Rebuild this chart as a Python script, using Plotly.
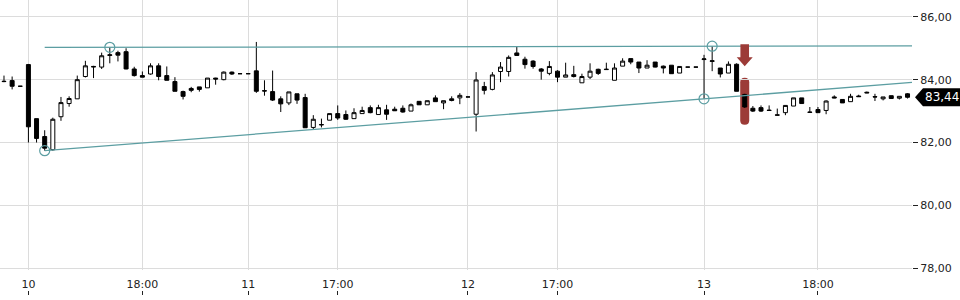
import plotly.graph_objects as go

# ---------------- data ----------------
opens = [83.95, 83.97, 83.79, 84.48, 82.76, 82.19, 81.77, 82.82, 83.24, 83.39,
         84.10, 84.40, 84.40, 84.77, 84.86, 84.89, 84.34, 84.13, 84.18, 84.44,
         84.13, 83.94, 83.62, 83.72, 83.77, 83.74, 84.05, 84.00, 84.24, 84.19,
         84.19, 84.28, 83.65, 83.62, 83.39, 83.26, 83.55, 83.43, 82.48, 82.56,
         82.71, 82.92, 82.89, 82.76, 82.92, 83.11, 82.89, 83.04, 83.06, 83.09,
         83.00, 83.31, 83.20, 83.42, 83.26, 83.39, 83.42, 83.45, 82.90, 83.78,
         83.69, 84.26, 84.26, 84.85, 84.65, 84.59, 84.34, 84.20, 84.27, 84.08,
         84.16, 83.90, 84.08, 84.33, 84.32, 83.98, 84.43, 84.67, 84.56, 84.37,
         84.56, 84.43, 84.46, 84.21, 84.40, 84.40, 84.64, 84.58, 84.37, 84.21,
         84.49, 83.53, 83.09, 83.11, 83.03, 82.88, 82.95, 83.16, 83.42, 82.97,
         83.05, 83.02, 83.45, 83.37, 83.30, 83.48, 83.60, 83.46, 83.39, 83.49,
         83.41, 83.55]
highs = [84.13, 84.10, 83.79, 84.50, 82.76, 82.39, 82.79, 83.45, 83.47, 84.13,
         84.60, 84.44, 84.86, 85.03, 84.92, 85.00, 84.41, 84.26, 84.52, 84.52,
         84.42, 84.08, 83.65, 83.77, 83.77, 84.05, 84.06, 84.26, 84.26, 84.19,
         84.19, 85.20, 83.98, 84.29, 83.47, 83.61, 83.55, 83.55, 82.87, 82.76,
         82.92, 83.18, 83.02, 83.09, 83.14, 83.18, 83.20, 83.20, 83.14, 83.18,
         83.24, 83.31, 83.33, 83.50, 83.33, 83.47, 83.57, 83.45, 84.24, 83.93,
         84.24, 84.56, 84.77, 85.07, 84.73, 84.62, 84.37, 84.59, 84.30, 84.54,
         84.44, 84.19, 84.52, 84.35, 84.54, 84.52, 84.68, 84.67, 84.56, 84.62,
         84.56, 84.45, 84.46, 84.42, 84.40, 84.40, 84.79, 85.065, 84.37, 84.58,
         84.52, 83.55, 83.16, 83.18, 83.18, 83.08, 83.18, 83.42, 83.42, 83.13,
         83.13, 83.34, 83.50, 83.37, 83.55, 83.52, 83.62, 83.55, 83.45, 83.49,
         83.47, 83.57]
lows = [83.92, 83.69, 83.79, 82.00, 82.00, 81.74, 81.74, 82.69, 83.14, 83.39,
        84.07, 84.05, 84.34, 84.52, 84.58, 84.33, 84.10, 84.08, 84.16, 83.98,
        83.98, 83.63, 83.37, 83.60, 83.62, 83.74, 83.84, 83.98, 84.15, 84.19,
        84.19, 83.58, 83.49, 83.32, 82.97, 83.19, 83.23, 82.47, 82.43, 82.48,
        82.71, 82.72, 82.72, 82.76, 82.92, 82.93, 82.89, 82.72, 83.01, 82.95,
        83.00, 83.20, 83.20, 83.30, 83.06, 83.31, 83.22, 83.45, 82.35, 83.53,
        83.66, 83.92, 84.10, 84.77, 84.35, 84.35, 84.00, 84.14, 83.92, 84.08,
        84.07, 83.90, 84.02, 84.15, 84.31, 83.98, 84.43, 84.49, 84.21, 84.37,
        84.39, 84.20, 84.19, 84.21, 84.40, 84.40, 83.39, 84.27, 84.07, 84.21,
        83.63, 83.10, 82.97, 82.97, 83.02, 82.87, 82.87, 83.16, 83.24, 82.96,
        82.95, 82.90, 83.41, 83.26, 83.30, 83.45, 83.57, 83.32, 83.34, 83.40,
        83.37, 83.40]
closes = [83.94, 83.79, 83.79, 82.50, 82.13, 81.82, 82.74, 83.27, 83.40, 84.00,
          84.44, 84.42, 84.76, 84.79, 84.78, 84.34, 84.13, 84.08, 84.44, 84.10,
          83.98, 83.63, 83.47, 83.66, 83.69, 84.05, 84.02, 84.24, 84.18, 84.19,
          84.19, 83.63, 83.64, 83.35, 83.23, 83.61, 83.35, 82.47, 82.74, 82.57,
          82.92, 82.78, 82.74, 82.95, 83.02, 82.95, 83.11, 82.90, 83.01, 82.97,
          83.20, 83.20, 83.33, 83.30, 83.33, 83.34, 83.50, 83.45, 83.99, 83.66,
          84.15, 84.40, 84.71, 84.77, 84.48, 84.42, 84.27, 84.42, 84.08, 84.15,
          84.10, 84.10, 84.27, 84.20, 84.33, 84.37, 84.59, 84.56, 84.37, 84.46,
          84.40, 84.37, 84.19, 84.42, 84.40, 84.40, 84.66, 84.60, 84.18, 84.49,
          83.63, 83.13, 83.00, 83.00, 83.02, 82.87, 83.18, 83.42, 83.24, 82.96,
          82.95, 83.32, 83.42, 83.26, 83.47, 83.46, 83.58, 83.45, 83.45, 83.40,
          83.47, 83.44]
idx = list(range(len(closes)))

# x-axis ticks (candle index where the label sits)
tick_idx = [3, 17, 30, 41, 57, 68, 86, 100]
tick_text = ["10", "18:00", "11", "17:00", "12", "17:00", "13", "18:00"]

y_ticks = [78, 80, 82, 84, 86]

# trend line anchor points (candle index, price)
upper_idx = [13, 87]
upper_val = [85.03, 85.065]
lower_idx = [5, 86]
lower_val = [81.74, 83.39]
line_start_idx = 5

# signal marker candle
signal_idx = 91
signal_arrow_tip = 84.43
signal_bar_center = 83.31

# ---------------- styles ----------------
X_RANGE = [-0.49, 111.55]
Y_RANGE = [77.95, 86.535]
TEAL = "rgb(92,158,162)"
RED = "#9c3b37"
GRID = "#dcdcdc"
FONT = "DejaVu Sans"

def extend(ix, vals, x0, x1):
    slope = (vals[1] - vals[0]) / (ix[1] - ix[0])
    return [x0, x1], [vals[0] + (x0 - ix[0]) * slope, vals[0] + (x1 - ix[0]) * slope]

fig = go.Figure()

fig.add_trace(go.Candlestick(
    x=idx, open=opens, high=highs, low=lows, close=closes,
    increasing=dict(fillcolor="white", line=dict(color="black", width=1)),
    decreasing=dict(fillcolor="black", line=dict(color="black", width=1)),
    whiskerwidth=0, showlegend=False, hoverinfo="skip",
))

ux, uy = extend(upper_idx, upper_val, line_start_idx, X_RANGE[1])
lx, ly = extend(lower_idx, lower_val, line_start_idx, X_RANGE[1])
for xs, ys in [(ux, uy), (lx, ly)]:
    fig.add_trace(go.Scatter(x=xs, y=ys, mode="lines",
                             line=dict(color=TEAL, width=1.3),
                             showlegend=False, hoverinfo="skip"))
fig.add_trace(go.Scatter(
    x=upper_idx + lower_idx, y=upper_val + lower_val, mode="markers",
    marker=dict(symbol="circle-open", size=10, color=TEAL, line=dict(width=1.2)),
    showlegend=False, hoverinfo="skip"))

shapes = []
# red rounded bar behind the signal candle
shapes.append(dict(
    type="path", layer="below", xref="x", yref="y",
    xsizemode="pixel", ysizemode="pixel",
    xanchor=signal_idx, yanchor=signal_bar_center,
    path="M-4.5,-19 L-4.5,19 Q-4.5,23.5 0,23.5 Q4.5,23.5 4.5,19 L4.5,-19 Q4.5,-23.5 0,-23.5 Q-4.5,-23.5 -4.5,-19 Z",
    fillcolor=RED, line=dict(width=0)))
# red down arrow
shapes.append(dict(
    type="path", layer="above", xref="x", yref="y",
    xsizemode="pixel", ysizemode="pixel",
    xanchor=signal_idx, yanchor=signal_arrow_tip,
    path="M0,0 L-8,9 L-4.3,9 L-4.3,22 L4.3,22 L4.3,9 L8,9 Z",
    fillcolor=RED, line=dict(width=0)))
# last price tag
shapes.append(dict(
    type="path", layer="above", xref="paper", yref="y",
    xsizemode="pixel", ysizemode="pixel",
    xanchor=1, yanchor=closes[-1],
    path="M3,0 L11,9 L48,9 L48,-9 L11,-9 Z",
    fillcolor="black", line=dict(width=0)))

fig.add_annotation(
    x=1, xref="paper", xanchor="left", xshift=11,
    y=closes[-1], yref="y", yanchor="middle",
    text=f"{closes[-1]:.2f}".replace(".", ","),
    showarrow=False, font=dict(family=FONT, size=12, color="white"))

fig.update_layout(
    width=960, height=300,
    margin=dict(l=0, r=48, t=0, b=3),
    paper_bgcolor="white", plot_bgcolor="white",
    separators=",.",
    font=dict(family=FONT, size=11, color="#222"),
    shapes=shapes,
    xaxis=dict(
        range=X_RANGE, rangeslider=dict(visible=False),
        tickvals=tick_idx, ticktext=tick_text,
        showgrid=True, gridcolor=GRID, gridwidth=1, zeroline=False,
        anchor="free", position=0, side="top",
        ticks="outside", ticklen=4, tickcolor="#222", showline=False,
        ticklabelstandoff=-1,
        tickfont=dict(family=FONT, size=11, color="#222"),
    ),
    yaxis=dict(
        range=Y_RANGE, domain=[0.0855, 1], side="right",
        tickvals=y_ticks, tickformat=".2f",
        showgrid=True, gridcolor=GRID, gridwidth=1, zeroline=False,
        ticks="outside", ticklen=5, tickcolor="#222", showline=False,
        tickfont=dict(family=FONT, size=11, color="#222"),
    ),
)

fig.write_html("out.html")
